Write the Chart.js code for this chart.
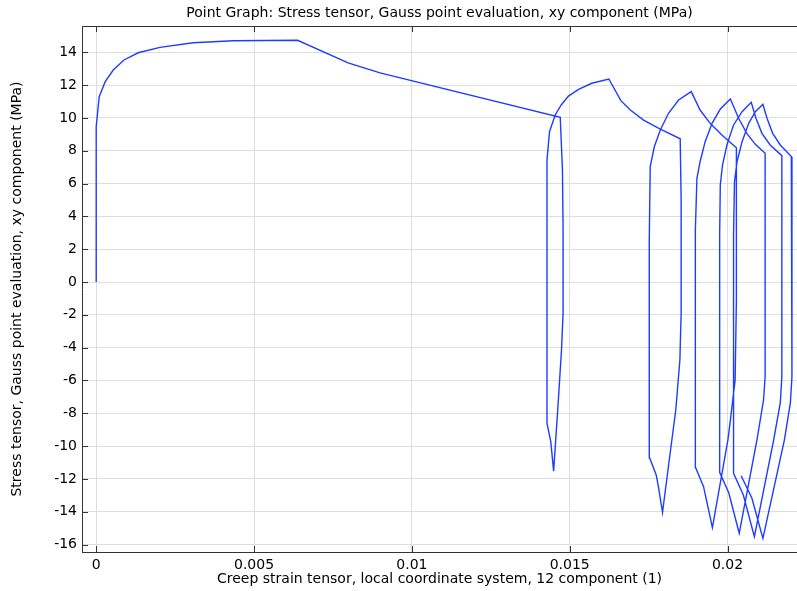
<!DOCTYPE html>
<html>
<head>
<meta charset="utf-8">
<script src="https://cdn.jsdelivr.net/npm/chart.js@4/dist/chart.umd.min.js"></script>
<style>
  body { margin: 0; background: #fff; }
  canvas { display: block; }
</style>
</head>
<body>
<canvas id="Chart" width="797" height="591"></canvas>
<script>
// creep strain (x) and shear stress (y), in drawing order
let strainValues = [
  0, 0, 0.000095, 0.000285, 0.00054, 0.00088, 0.00133, 0.00202, 0.00307, 0.00434, 0.00638, 0.00798, 0.00899, 0.01470,
  0.01477, 0.01479, 0.01479, 0.01474, 0.01462, 0.01449, 0.01440, 0.01428,
  0.01428, 0.01436, 0.01454, 0.01473, 0.01496, 0.01528, 0.01570, 0.01624,
  0.01662, 0.01692, 0.01734, 0.01787, 0.01850,
  0.01853, 0.01853, 0.01849, 0.01836, 0.01817, 0.01794,
  0.01781, 0.01774, 0.01753,
  0.01752, 0.01755, 0.01768, 0.01787, 0.01813, 0.01845, 0.01885,
  0.01913, 0.01945, 0.01982, 0.02028,
  0.02028, 0.02024, 0.02009, 0.02001, 0.01952,
  0.01924, 0.01899,
  0.01898, 0.01903, 0.01913, 0.01929, 0.01951, 0.01977, 0.02009,
  0.02035, 0.02061, 0.02088, 0.02119,
  0.02119, 0.02114, 0.02093, 0.02037,
  0.02004, 0.01975,
  0.01975, 0.01977, 0.01984, 0.01998, 0.02019, 0.02046, 0.02075,
  0.02090, 0.02109, 0.02135, 0.02172,
  0.02172, 0.02167, 0.02146, 0.02085,
  0.02050, 0.02019,
  0.02019, 0.02022, 0.02030, 0.02046, 0.02067, 0.02088, 0.02112,
  0.02125, 0.02143, 0.02167, 0.02202,
  0.02204, 0.02199, 0.02180, 0.02112,
  0.02077, 0.02043
];
let stressValues = [
  0, 9.46, 11.29, 12.21, 12.92, 13.53, 13.97, 14.30, 14.58, 14.70, 14.73, 13.35, 12.74, 10.04,
  6.83, 3.17, -1.89, -4.14, -7.80, -11.52, -9.73, -8.61,
  7.43, 9.16, 10.18, 10.79, 11.33, 11.74, 12.11, 12.37,
  11.05, 10.48, 9.87, 9.31, 8.73,
  5.00, -1.89, -4.75, -7.80, -10.60, -14.03,
  -12.47, -11.76, -10.71,
  2.56, 7.03, 8.24, 9.26, 10.28, 11.09, 11.60,
  10.48, 9.67, 8.96, 8.18,
  -1.10, -5.97, -8.41, -9.63, -14.96,
  -12.47, -11.32,
  3.17, 6.32, 7.33, 8.55, 9.67, 10.54, 11.15,
  9.98, 9.06, 8.39, 7.84,
  -5.77, -7.19, -9.63, -15.31,
  -12.86, -11.60,
  2.86, 5.91, 7.13, 8.35, 9.57, 10.38, 10.95,
  9.98, 9.06, 8.35, 7.70,
  -5.77, -7.37, -9.63, -15.52,
  -12.98, -11.66,
  2.86, 6.11, 7.33, 8.55, 9.67, 10.38, 10.83,
  9.98, 9.06, 8.35, 7.64,
  -5.77, -7.37, -9.63, -15.62,
  -13.16, -11.80
];

let xTickValues = [0, 0.005, 0.01, 0.015, 0.02];
let xTickLabels = ['0', '0.005', '0.01', '0.015', '0.02'];
let yTickValues = [-16, -14, -12, -10, -8, -6, -4, -2, 0, 2, 4, 6, 8, 10, 12, 14];
let yTickLabels = ['-16', '-14', '-12', '-10', '-8', '-6', '-4', '-2', '0', '2', '4', '6', '8', '10', '12', '14'];

let points = strainValues.map((v, i) => ({ x: v, y: stressValues[i] }));

Chart.defaults.font.family = '"DejaVu Sans", sans-serif';
Chart.defaults.font.size = 14;
Chart.defaults.color = '#000';

// top frame line + short inward tick marks like the original plot
let frameTicks = {
  id: 'frameTicks',
  afterDraw(chart) {
    let { ctx, chartArea: a, scales: { x, y } } = chart;
    ctx.save();
    ctx.strokeStyle = '#333';
    ctx.lineWidth = 1;
    ctx.beginPath();
    ctx.moveTo(a.left, Math.round(a.top) + 0.5);
    ctx.lineTo(a.right, Math.round(a.top) + 0.5);
    x.ticks.forEach(t => {
      let px = Math.round(x.getPixelForValue(t.value)) + 0.5;
      ctx.moveTo(px, a.bottom); ctx.lineTo(px, a.bottom - 6);
      ctx.moveTo(px, a.top); ctx.lineTo(px, a.top + 6);
    });
    y.ticks.forEach(t => {
      let py = Math.round(y.getPixelForValue(t.value)) + 0.5;
      ctx.moveTo(a.left, py); ctx.lineTo(a.left + 6, py);
    });
    ctx.stroke();
    ctx.restore();
  }
};

let lineCtx = document.getElementById('Chart');
let lineConfig = {
  type: 'scatter',
  data: {
    datasets: [{
      data: points,
      showLine: true,
      borderColor: '#1f3cff',
      borderWidth: 1.4,
      pointRadius: 0,
      tension: 0,
      fill: false
    }]
  },
  options: {
    responsive: false,
    animation: false,
    layout: { padding: 0 },
    plugins: {
      legend: { display: false },
      tooltip: { enabled: false },
      title: {
        display: true,
        fullSize: false,
        text: 'Point Graph: Stress tensor, Gauss point evaluation, xy component (MPa)',
        font: { size: 14, weight: 'normal' },
        color: '#000',
        padding: { top: 4.5, bottom: 4.7 }
      }
    },
    scales: {
      x: {
        type: 'linear',
        min: -0.00045,
        max: 0.0222,
        afterBuildTicks: s => { s.ticks = xTickValues.map(v => ({ value: v })); },
        afterFit: s => { s.height = 39; },
        ticks: { padding: 5.3, callback: (v, i) => xTickLabels[i] },
        grid: { color: '#dedede', drawTicks: false },
        border: { color: '#333', width: 1 },
        title: {
          display: true,
          text: 'Creep strain tensor, local coordinate system, 12 component (1)',
          font: { size: 14 },
          padding: { top: 0, bottom: 3.6 }
        }
      },
      y: {
        type: 'linear',
        min: -16.45,
        max: 15.6,
        afterBuildTicks: s => { s.ticks = yTickValues.map(v => ({ value: v })); },
        afterFit: s => { s.width = 82; },
        ticks: { padding: 5, callback: (v, i) => yTickLabels[i] },
        grid: { color: '#dedede', drawTicks: false },
        border: { color: '#333', width: 1 },
        title: {
          display: true,
          text: 'Stress tensor, Gauss point evaluation, xy component (MPa)',
          font: { size: 14 },
          padding: { top: 8.6, bottom: 0 }
        }
      }
    }
  },
  plugins: [frameTicks]
};
let lineChart = new Chart(lineCtx, lineConfig);
</script>
</body>
</html>
